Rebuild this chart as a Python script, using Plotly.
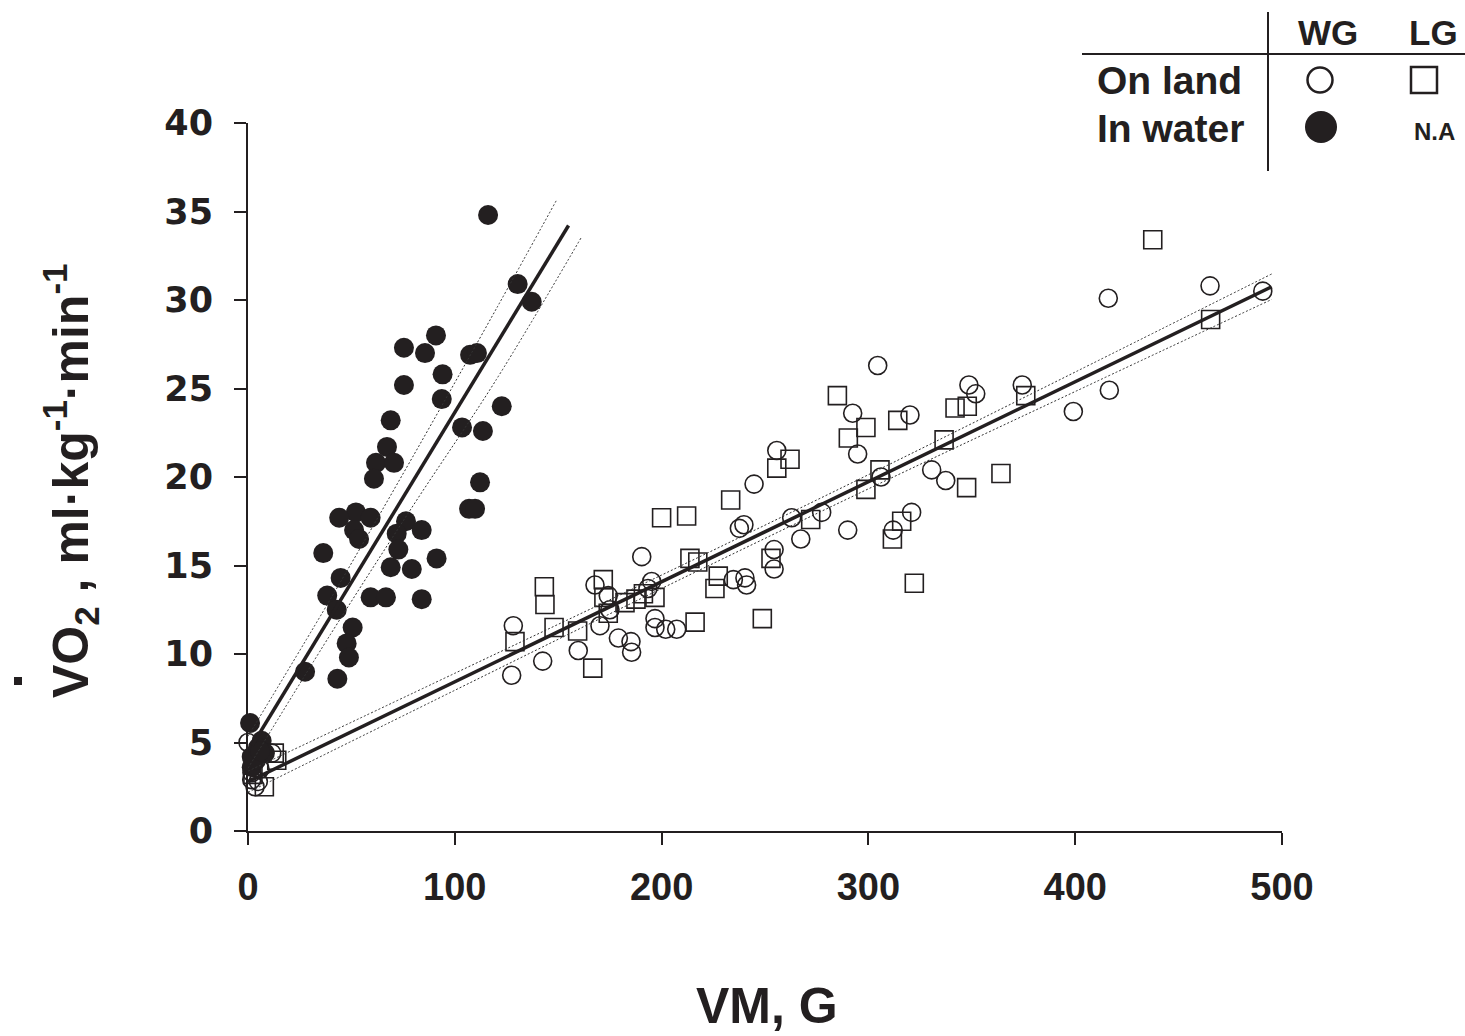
import plotly.graph_objects as go

# ---- VO2 vs. vector magnitude (VM) ----
# Wet group (WG) in water: filled circles
water_wg_vm = [116.1, 130.4, 137.2, 90.9, 75.4, 85.6, 107.4, 110.7, 94.1, 75.4,
               93.7, 122.7, 69.0, 103.5, 113.6, 67.2, 61.9, 70.6, 60.9, 112.2,
               106.9, 109.8, 52.2, 44.1, 59.3, 76.4, 51.3, 53.7, 84.0, 71.9,
               72.7, 36.4, 91.2, 44.8, 69.0, 79.2, 38.3, 59.3, 66.7, 84.0,
               42.9, 50.6, 47.7, 48.8, 27.6, 43.2,
               1.0, 6.6, 1.8, 8.2, 1.8, 4.8, 3.9, 5.8]
water_wg_vo2 = [34.8, 30.9, 29.9, 28.0, 27.3, 27.0, 26.9, 27.0, 25.8, 25.2,
                24.4, 24.0, 23.2, 22.8, 22.6, 21.7, 20.8, 20.8, 19.9, 19.7,
                18.2, 18.2, 18.0, 17.7, 17.7, 17.5, 17.0, 16.5, 17.0, 16.8,
                15.9, 15.7, 15.4, 14.3, 14.9, 14.8, 13.3, 13.2, 13.2, 13.1,
                12.5, 11.5, 10.6, 9.8, 9.0, 8.6,
                6.1, 5.1, 4.2, 4.4, 3.6, 4.7, 4.0, 4.5]

# Wet group (WG) on land: open circles
land_wg_vm = [255.7, 244.7, 237.6, 239.8, 262.9, 277.4, 267.3, 190.4, 254.4, 254.4,
              195.2, 193.4, 167.8, 174.2, 175.0, 234.7, 240.3, 241.1, 128.3, 196.8,
              196.8, 202.0, 207.3, 170.2, 179.1, 185.2, 185.5, 159.7, 142.5, 127.5,
              304.5, 348.6, 351.9, 374.4, 292.4, 320.1, 399.1, 294.8, 306.1, 330.6,
              337.4, 290.0, 320.9, 312.0, 416.0, 465.2, 490.7, 416.5,
              0.0, 1.8, 5.0, 3.4, 11.5, 5.8, 1.9]
land_wg_vo2 = [21.5, 19.6, 17.1, 17.3, 17.7, 18.0, 16.5, 15.5, 15.9, 14.8,
               14.1, 13.7, 13.9, 13.3, 12.5, 14.2, 14.3, 13.9, 11.6, 12.0,
               11.5, 11.4, 11.4, 11.6, 10.9, 10.7, 10.1, 10.2, 9.6, 8.8,
               26.3, 25.2, 24.7, 25.2, 23.6, 23.5, 23.7, 21.3, 20.0, 20.4,
               19.8, 17.0, 18.0, 17.0, 30.1, 30.8, 30.5, 24.9,
               5.0, 2.9, 2.8, 2.5, 4.4, 3.5, 3.3]

# Land group (LG) on land: open squares
land_lg_vm = [255.7, 262.1, 233.4, 200.0, 212.1, 213.7, 217.5, 143.3, 143.6, 171.8,
              172.1, 227.4, 225.8, 272.1, 252.9, 174.2, 182.3, 187.6, 191.2, 196.8,
              148.0, 159.4, 216.2, 248.7, 129.1, 166.7, 285.0, 298.8, 290.3, 314.2,
              341.9, 347.8, 376.1, 336.6, 305.6, 298.8, 364.1, 347.5, 316.1, 311.6,
              322.2, 437.5, 465.5,
              12.7, 13.9, 7.9, 2.4]
land_lg_vo2 = [20.5, 21.0, 18.7, 17.7, 17.8, 15.4, 15.2, 13.8, 12.8, 14.2,
               13.2, 14.4, 13.7, 17.6, 15.4, 12.3, 12.9, 13.1, 13.4, 13.2,
               11.5, 11.3, 11.8, 12.0, 10.7, 9.2, 24.6, 22.8, 22.2, 23.2,
               23.9, 24.0, 24.6, 22.1, 20.4, 19.3, 20.2, 19.4, 17.5, 16.5,
               14.0, 33.4, 28.9,
               4.4, 4.0, 2.5, 3.2]

# Regression lines and their confidence bands
water_fit_vm = [2, 155]
water_fit_vo2 = [4.83, 34.21]
water_upper_vm = [0, 40, 80, 120, 149]
water_upper_vo2 = [5.35, 13.13, 21.21, 29.49, 35.6]
water_lower_vm = [0, 40, 80, 120, 161]
water_lower_vo2 = [3.55, 11.13, 18.41, 25.49, 33.5]

land_fit_vm = [0, 495]
land_fit_vo2 = [2.78, 30.75]
land_band_vm = [0, 100, 200, 300, 400, 495]
land_upper_vo2 = [3.38, 8.91, 14.46, 20.13, 25.93, 31.47]
land_lower_vo2 = [2.18, 7.95, 13.70, 19.33, 24.83, 30.03]

x_ticks = [0, 100, 200, 300, 400, 500]
y_ticks = [0, 5, 10, 15, 20, 25, 30, 35, 40]

INK = "#231f20"
W, H = 1465, 1036
L, R, T, B = 248, 183, 123, 205
PW, PH = W - L - R, H - T - B


def fx(px):
    return (px - L) / PW


def fy(py):
    return (H - B - py) / PH


fig = go.Figure()

fig.add_trace(go.Scatter(
    x=land_wg_vm, y=land_wg_vo2, mode="markers", cliponaxis=False,
    marker=dict(symbol="circle-open", size=18, color=INK, line=dict(width=1.6, color=INK))))
fig.add_trace(go.Scatter(
    x=land_lg_vm, y=land_lg_vo2, mode="markers", cliponaxis=False,
    marker=dict(symbol="square-open", size=18, color=INK, line=dict(width=1.6, color=INK))))
fig.add_trace(go.Scatter(
    x=water_wg_vm, y=water_wg_vo2, mode="markers", cliponaxis=False,
    marker=dict(symbol="circle", size=20, color=INK, line=dict(width=0))))

band = dict(color="#333333", width=1, dash="2px,2px")
for bx, by in [(water_upper_vm, water_upper_vo2), (water_lower_vm, water_lower_vo2),
               (land_band_vm, land_upper_vo2), (land_band_vm, land_lower_vo2)]:
    fig.add_trace(go.Scatter(x=bx, y=by, mode="lines", line=band, cliponaxis=False,
                             line_shape="spline"))

for lx, ly in [(water_fit_vm, water_fit_vo2), (land_fit_vm, land_fit_vo2)]:
    fig.add_trace(go.Scatter(x=lx, y=ly, mode="lines", cliponaxis=False,
                             line=dict(color=INK, width=3.5)))

axis_common = dict(showline=True, linecolor=INK, linewidth=2, ticks="outside",
                   ticklen=12, tickwidth=2, tickcolor=INK, showgrid=False,
                   zeroline=False)

fig.update_xaxes(range=[0, 500], tickvals=x_ticks, ticklabelstandoff=9,
                 tickfont=dict(family="Liberation Sans", size=38, color=INK, weight="bold"),
                 **axis_common)
fig.update_yaxes(range=[0, 40], tickvals=y_ticks, ticklabelstandoff=14,
                 tickfont=dict(family="DejaVu Sans", size=35, color=INK, weight="bold"),
                 **axis_common)

bold = dict(family="Liberation Sans", color=INK, weight="bold")
ann = []
# axis titles
ann.append(dict(x=fx(767), y=fy(1006), text="VM, G", font=dict(size=50, **bold)))
ann.append(dict(x=fx(70), y=fy(481), textangle=-90,
                text="VO<sub>2</sub> , ml·kg<sup>-1</sup>·min<sup>-1</sup>",
                font=dict(size=50, **bold)))
# key table
ann.append(dict(x=fx(1328), y=fy(32), text="WG", font=dict(size=35, **bold)))
ann.append(dict(x=fx(1433), y=fy(32), text="LG", font=dict(size=35, **bold)))
ann.append(dict(x=fx(1244), y=fy(80), text="On land", xanchor="right", font=dict(size=39, **bold)))
ann.append(dict(x=fx(1246), y=fy(128), text="In water", xanchor="right", font=dict(size=39, **bold)))
ann.append(dict(x=fx(1434), y=fy(131), text="N.A", font=dict(size=24, **bold)))
for a in ann:
    a.setdefault("xanchor", "center")
    a.update(xref="paper", yref="paper", showarrow=False, yanchor="middle")

shapes = [
    dict(type="line", x0=fx(1082), x1=fx(1465), y0=fy(54), y1=fy(54), line=dict(color=INK, width=2)),
    dict(type="line", x0=fx(1268), x1=fx(1268), y0=fy(12), y1=fy(171), line=dict(color=INK, width=2)),
    dict(type="circle", x0=fx(1307.5), x1=fx(1332.5), y0=fy(92.5), y1=fy(67.5),
         line=dict(color=INK, width=2.5)),
    dict(type="rect", x0=fx(1411), x1=fx(1437), y0=fy(93), y1=fy(67),
         line=dict(color=INK, width=2.5)),
    dict(type="circle", x0=fx(1305), x1=fx(1337), y0=fy(143), y1=fy(111),
         fillcolor=INK, line=dict(color=INK, width=0)),
    # dot over the V of VO2
    dict(type="rect", x0=fx(14), x1=fx(22), y0=fy(685), y1=fy(677),
         fillcolor=INK, line=dict(width=0)),
]
for s in shapes:
    s.update(xref="paper", yref="paper")

fig.update_layout(width=W, height=H, margin=dict(l=L, r=R, t=T, b=B),
                  plot_bgcolor="white", paper_bgcolor="white", showlegend=False,
                  annotations=ann, shapes=shapes)

fig.write_html("out.html")
